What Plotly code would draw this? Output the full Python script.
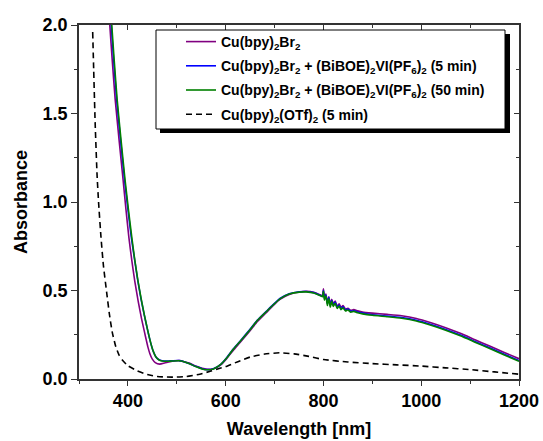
import plotly.graph_objects as go

# ---------------- data ----------------
wl_br2 = [361, 363, 368, 374, 382, 390, 396, 402, 408, 414, 421, 428, 434, 438, 441, 445, 450, 456, 465,
          475, 490, 505, 515, 525, 540, 552, 562, 575, 590, 602, 615, 629, 649, 665, 683, 697, 711, 730,
          751, 765, 780, 794, 798, 800, 802, 805, 808, 811, 814, 817, 820, 824, 828, 832, 836, 840, 845,
          850, 856, 862, 870, 880, 900, 930, 960, 990, 1020, 1050, 1080, 1110, 1140, 1170, 1200]
abs_br2 = [2.10, 2.00, 1.80, 1.58, 1.35, 1.13, 0.96, 0.80, 0.67, 0.555, 0.44, 0.34, 0.265, 0.215, 0.180,
           0.143, 0.112, 0.093, 0.084, 0.090, 0.100, 0.104, 0.098, 0.090, 0.072, 0.060, 0.055, 0.058,
           0.080, 0.115, 0.160, 0.205, 0.270, 0.325, 0.375, 0.415, 0.450, 0.478, 0.492, 0.495, 0.490,
           0.475, 0.470, 0.510, 0.460, 0.480, 0.430, 0.465, 0.420, 0.450, 0.425, 0.440, 0.410, 0.425,
           0.405, 0.415, 0.395, 0.400, 0.388, 0.392, 0.385, 0.378, 0.372, 0.365, 0.357, 0.342, 0.318,
           0.290, 0.258, 0.222, 0.186, 0.150, 0.115]

wl_5min = [364, 366, 371, 377, 385, 393, 400, 407, 414, 420, 427, 434, 440, 444, 448, 452, 457, 463, 470,
           480, 492, 505, 515, 525, 540, 552, 562, 575, 590, 602, 615, 629, 649, 665, 683, 697, 711, 730,
           751, 765, 780, 794, 798, 800, 802, 805, 808, 811, 814, 817, 820, 824, 828, 832, 836, 840, 845,
           850, 856, 862, 870, 880, 900, 930, 960, 990, 1020, 1050, 1080, 1110, 1140, 1170, 1200]
abs_5min = [2.10, 2.00, 1.80, 1.58, 1.35, 1.13, 0.96, 0.80, 0.67, 0.56, 0.45, 0.355, 0.28, 0.232, 0.190,
            0.155, 0.126, 0.110, 0.103, 0.101, 0.103, 0.104, 0.098, 0.088, 0.070, 0.058, 0.053, 0.058,
            0.083, 0.120, 0.168, 0.212, 0.278, 0.333, 0.382, 0.420, 0.455, 0.482, 0.493, 0.494, 0.488,
            0.472, 0.468, 0.500, 0.455, 0.475, 0.425, 0.462, 0.415, 0.445, 0.418, 0.435, 0.405, 0.418,
            0.398, 0.408, 0.390, 0.395, 0.383, 0.386, 0.378, 0.372, 0.363, 0.356, 0.347, 0.332, 0.308,
            0.280, 0.248, 0.212, 0.176, 0.140, 0.104]

wl_50min = [364, 367, 372, 378, 386, 394, 401, 408, 414, 420, 427, 434, 440, 444, 448, 452, 457, 463, 470,
            480, 492, 505, 515, 525, 540, 552, 562, 575, 590, 602, 615, 629, 649, 665, 683, 697, 711, 730,
            751, 765, 780, 794, 798, 800, 802, 805, 808, 811, 814, 817, 820, 824, 828, 832, 836, 840, 845,
            850, 856, 862, 870, 880, 900, 930, 960, 990, 1020, 1050, 1080, 1110, 1140, 1170, 1200]
abs_50min = [2.10, 2.00, 1.80, 1.58, 1.35, 1.13, 0.96, 0.80, 0.675, 0.565, 0.455, 0.358, 0.282, 0.234,
             0.191, 0.156, 0.126, 0.109, 0.102, 0.100, 0.102, 0.103, 0.097, 0.087, 0.069, 0.057, 0.052,
             0.057, 0.082, 0.118, 0.166, 0.210, 0.276, 0.331, 0.380, 0.418, 0.453, 0.480, 0.491, 0.492,
             0.486, 0.470, 0.465, 0.495, 0.445, 0.470, 0.415, 0.455, 0.405, 0.440, 0.410, 0.428, 0.398,
             0.412, 0.392, 0.402, 0.385, 0.390, 0.378, 0.382, 0.374, 0.368, 0.360, 0.352, 0.343, 0.328,
             0.304, 0.276, 0.244, 0.208, 0.172, 0.136, 0.100]

wl_otf = [328, 330, 333, 337, 340, 345, 350, 357, 362, 368, 375, 382, 389, 400, 417, 440, 460, 480, 500,
          520, 547, 570, 585, 600, 625, 650, 680, 710, 740, 770, 800, 850, 900, 950, 1000, 1050, 1100,
          1150, 1200]
abs_otf = [1.96, 1.75, 1.45, 1.15, 1.00, 0.80, 0.64, 0.48, 0.37, 0.265, 0.185, 0.135, 0.106, 0.075,
           0.049, 0.025, 0.014, 0.011, 0.011, 0.014, 0.027, 0.045, 0.058, 0.070, 0.098, 0.124, 0.141,
           0.148, 0.142, 0.128, 0.110, 0.096, 0.087, 0.080, 0.073, 0.063, 0.053, 0.040, 0.027]

names = [
    "Cu(bpy)<sub>2</sub>Br<sub>2</sub>",
    "Cu(bpy)<sub>2</sub>Br<sub>2</sub> + (BiBOE)<sub>2</sub>VI(PF<sub>6</sub>)<sub>2</sub> (5 min)",
    "Cu(bpy)<sub>2</sub>Br<sub>2</sub> + (BiBOE)<sub>2</sub>VI(PF<sub>6</sub>)<sub>2</sub> (50 min)",
    "Cu(bpy)<sub>2</sub>(OTf)<sub>2</sub> (5 min)",
]

x_ticks = [400, 600, 800, 1000, 1200]
y_ticks = [0.0, 0.5, 1.0, 1.5, 2.0]

# ---------------- figure ----------------
W, H = 543, 441
L, R, T, B = 79, 24, 25, 62
pw, ph = W - L - R, H - T - B

def px(xp):
    return (xp - L) / pw

def py(yp):
    return (H - B - yp) / ph

FONT = "Liberation Sans, Arial, sans-serif"

fig = go.Figure()
fig.add_trace(go.Scatter(x=wl_br2, y=abs_br2, mode="lines", name=names[0], legendgroup="a",
                         line=dict(color="#800080", width=1.6, shape="spline", smoothing=0.5)))
fig.add_trace(go.Scatter(x=wl_5min, y=abs_5min, mode="lines", name=names[1], legendgroup="b",
                         line=dict(color="#0000ff", width=1.6, shape="spline", smoothing=0.5)))
fig.add_trace(go.Scatter(x=wl_50min, y=abs_50min, mode="lines", name=names[2], legendgroup="c",
                         line=dict(color="#008000", width=1.6, shape="spline", smoothing=0.5)))
fig.add_trace(go.Scatter(x=wl_otf, y=abs_otf, mode="lines", name=names[3], legendgroup="d",
                         line=dict(color="black", width=1.6, dash="6px,4px", shape="spline", smoothing=0.5)))
# empty trace so the mirrored (top/right) axes are drawn
fig.add_trace(go.Scatter(x=[], y=[], xaxis="x2", yaxis="y2", showlegend=False, hoverinfo="skip"))

axis_common = dict(showgrid=False, zeroline=False, showline=True, linecolor="#333333", linewidth=1.5,
                   tickcolor="#333333", tickwidth=1.3, automargin=False)

fig.update_layout(
    width=W, height=H,
    margin=dict(l=L, r=R, t=T, b=B, autoexpand=False),
    paper_bgcolor="white", plot_bgcolor="white",
    font=dict(family=FONT, color="black"),
    xaxis=dict(range=[300, 1200], tickvals=x_ticks, ticktext=[str(v) for v in x_ticks],
               ticks="outside", ticklen=5,
               minor=dict(dtick=100, tick0=300, ticks="outside", ticklen=3, tickcolor="#333333"),
               tickfont=dict(size=18, family=FONT, weight="bold"),
               title=dict(text="<b>Wavelength [nm]</b>", font=dict(size=18, family=FONT), standoff=12),
               **axis_common),
    yaxis=dict(range=[0, 2], tickvals=y_ticks, ticktext=["%.1f" % v for v in y_ticks],
               ticks="outside", ticklen=6,
               minor=dict(dtick=0.25, tick0=0, ticks="outside", ticklen=3, tickcolor="#333333"),
               tickfont=dict(size=18, family=FONT, weight="bold"),
               title=dict(text="<b>Absorbance</b>", font=dict(size=18, family=FONT), standoff=10),
               **axis_common),
    xaxis2=dict(range=[300, 1200], overlaying="x", side="top", anchor="y2", showticklabels=False,
                tickvals=x_ticks, ticks="inside", ticklen=5,
                minor=dict(dtick=100, tick0=300, ticks="inside", ticklen=3, tickcolor="#333333"),
                **axis_common),
    yaxis2=dict(range=[0, 2], overlaying="y", side="right", anchor="x2", showticklabels=False,
                tickvals=y_ticks, ticks="inside", ticklen=5,
                minor=dict(dtick=0.25, tick0=0, ticks="inside", ticklen=3, tickcolor="#333333"),
                **axis_common),
    showlegend=True,
    legend=dict(x=px(181), y=py(26), xanchor="left", yanchor="top",
                bgcolor="rgba(0,0,0,0)", borderwidth=0,
                font=dict(size=14, family=FONT, weight="bold"),
                itemwidth=30, tracegroupgap=3, traceorder="grouped"),
    shapes=[
        dict(type="rect", xref="paper", yref="paper", layer="above",
             x0=px(160), x1=px(510), y0=py(34), y1=py(133),
             fillcolor="black", line=dict(width=0)),
        dict(type="rect", xref="paper", yref="paper", layer="above",
             x0=px(156), x1=px(505), y0=py(30), y1=py(129),
             fillcolor="white", line=dict(color="black", width=1)),
    ],
)

fig.write_html("out.html")
